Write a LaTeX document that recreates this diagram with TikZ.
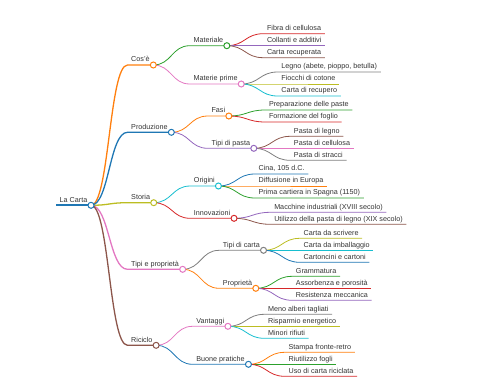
\documentclass[tikz,border=0pt]{standalone}
\usepackage{fontspec}
\setmainfont{Liberation Sans}
\usetikzlibrary{calc}

\definecolor{cblue}{HTML}{1F77B4}
\definecolor{corange}{HTML}{FF7F0E}
\definecolor{cgreen}{HTML}{2CA02C}
\definecolor{cred}{HTML}{D62728}
\definecolor{cpurple}{HTML}{9467BD}
\definecolor{cbrown}{HTML}{8C564B}
\definecolor{cpink}{HTML}{E377C2}
\definecolor{cgray}{HTML}{7F7F7F}
\definecolor{colive}{HTML}{BCBD22}
\definecolor{ccyan}{HTML}{17BECF}

\begin{document}
\begin{tikzpicture}[
    x=1pt, y=-1pt,
    topic/.style={
        anchor=south west,
        inner xsep=3.5pt,
        inner ysep=1.5pt,
        text height=5.2pt,
        text depth=1.5pt,
        font=\fontsize{7.2}{8}\selectfont,
        text=black!80,
    },
    link/.style={
        line width=0.8pt,
        to path={.. controls +(18.25,0) and +(-18.25,0) .. (\tikztotarget)},
    },
    thick link/.style={
        link,
        line width=1.3pt,
    },
    dot/.style={
        draw,
        circle,
        fill=white,
        line width=1pt,
        inner sep=0pt,
        minimum size=6pt,
    },
]
    \useasboundingbox (0,0) rectangle (480,384);

    \node[topic] (root) at (56,205.3) {La Carta};

    % first level
    \node[topic] (cose) at ($(root.south east)+(36.5,-140.3)$) {Cos'è};
    \node[topic] (prod) at ($(root.south east)+(36.5,-73)$) {Produzione};
    \node[topic] (storia) at ($(root.south east)+(36.5,-2.6)$) {Storia};
    \node[topic] (tipi) at ($(root.south east)+(36.5,64)$) {Tipi e proprietà};
    \node[topic] (ricic) at ($(root.south east)+(36.5,140)$) {Riciclo};

    % second level
    \node[topic] (mat) at ($(cose.south east)+(36.5,-19.3)$) {Materiale};
    \node[topic] (matp) at ($(cose.south east)+(36.5,19)$) {Materie prime};
    \node[topic] (fasi) at ($(prod.south east)+(36.5,-16.3)$) {Fasi};
    \node[topic] (pasta) at ($(prod.south east)+(36.5,16)$) {Tipi di pasta};
    \node[topic] (orig) at ($(storia.south east)+(36.5,-16.7)$) {Origini};
    \node[topic] (innov) at ($(storia.south east)+(36.5,15.6)$) {Innovazioni};
    \node[topic] (carta) at ($(tipi.south east)+(36.5,-19)$) {Tipi di carta};
    \node[topic] (prop) at ($(tipi.south east)+(36.5,19)$) {Proprietà};
    \node[topic] (vant) at ($(ricic.south east)+(36.5,-19)$) {Vantaggi};
    \node[topic] (buone) at ($(ricic.south east)+(36.5,19)$) {Buone pratiche};

    % leaves
    \node[topic] (fibra) at ($(mat.south east)+(36.5,-12)$) {Fibra di cellulosa};
    \node[topic] (coll) at ($(mat.south east)+(36.5,0)$) {Collanti e additivi};
    \node[topic] (recup) at ($(mat.south east)+(36.5,12)$) {Carta recuperata};
    \node[topic] (legno) at ($(matp.south east)+(36.5,-12)$) {Legno (abete, pioppo, betulla)};
    \node[topic] (cotone) at ($(matp.south east)+(36.5,0)$) {Fiocchi di cotone};
    \node[topic] (recup2) at ($(matp.south east)+(36.5,12)$) {Carta di recupero};
    \node[topic] (prep) at ($(fasi.south east)+(36.5,-6)$) {Preparazione delle paste};
    \node[topic] (form) at ($(fasi.south east)+(36.5,6)$) {Formazione del foglio};
    \node[topic] (pleg) at ($(pasta.south east)+(36.5,-12)$) {Pasta di legno};
    \node[topic] (pcel) at ($(pasta.south east)+(36.5,0)$) {Pasta di cellulosa};
    \node[topic] (pstr) at ($(pasta.south east)+(36.5,12)$) {Pasta di stracci};
    \node[topic] (cina) at ($(orig.south east)+(36.5,-12)$) {Cina, 105 d.C.};
    \node[topic] (diff) at ($(orig.south east)+(36.5,0)$) {Diffusione in Europa};
    \node[topic] (spagna) at ($(orig.south east)+(36.5,12)$) {Prima cartiera in Spagna (1150)};
    \node[topic] (macch) at ($(innov.south east)+(36.5,-6)$) {Macchine industriali (XVIII secolo)};
    \node[topic] (util) at ($(innov.south east)+(36.5,6)$) {Utilizzo della pasta di legno (XIX secolo)};
    \node[topic] (scriv) at ($(carta.south east)+(36.5,-12)$) {Carta da scrivere};
    \node[topic] (imball) at ($(carta.south east)+(36.5,0)$) {Carta da imballaggio};
    \node[topic] (cartonc) at ($(carta.south east)+(36.5,12)$) {Cartoncini e cartoni};
    \node[topic] (gramm) at ($(prop.south east)+(36.5,-12)$) {Grammatura};
    \node[topic] (assorb) at ($(prop.south east)+(36.5,0)$) {Assorbenza e porosità};
    \node[topic] (resist) at ($(prop.south east)+(36.5,12)$) {Resistenza meccanica};
    \node[topic] (alberi) at ($(vant.south east)+(36.5,-12)$) {Meno alberi tagliati};
    \node[topic] (energ) at ($(vant.south east)+(36.5,0)$) {Risparmio energetico};
    \node[topic] (rifiuti) at ($(vant.south east)+(36.5,12)$) {Minori rifiuti};
    \node[topic] (stampa) at ($(buone.south east)+(36.5,-12)$) {Stampa fronte-retro};
    \node[topic] (riut) at ($(buone.south east)+(36.5,0)$) {Riutilizzo fogli};
    \node[topic] (riccl) at ($(buone.south east)+(36.5,12)$) {Uso di carta riciclata};

    % underlines and links
    \draw[cblue, line width=1.8pt] (root.south west) -- (root.south east);

    \draw[thick link, corange] (root.south east) to (cose.south west) -- (cose.south east);
    \draw[thick link, cblue] (root.south east) to (prod.south west) -- (prod.south east);
    \draw[thick link, colive] (root.south east) to (storia.south west) -- (storia.south east);
    \draw[thick link, cpink] (root.south east) to (tipi.south west) -- (tipi.south east);
    \draw[thick link, cbrown] (root.south east) to (ricic.south west) -- (ricic.south east);

    \draw[link, cgreen] (cose.south east) to (mat.south west) -- (mat.south east);
    \draw[link, cpink] (cose.south east) to (matp.south west) -- (matp.south east);
    \draw[link, corange] (prod.south east) to (fasi.south west) -- (fasi.south east);
    \draw[link, cpurple] (prod.south east) to (pasta.south west) -- (pasta.south east);
    \draw[link, ccyan] (storia.south east) to (orig.south west) -- (orig.south east);
    \draw[link, cred] (storia.south east) to (innov.south west) -- (innov.south east);
    \draw[link, cgray] (tipi.south east) to (carta.south west) -- (carta.south east);
    \draw[link, corange] (tipi.south east) to (prop.south west) -- (prop.south east);
    \draw[link, cpink] (ricic.south east) to (vant.south west) -- (vant.south east);
    \draw[link, cblue] (ricic.south east) to (buone.south west) -- (buone.south east);

    \draw[link, cred] (mat.south east) to (fibra.south west) -- (fibra.south east);
    \draw[link, cpurple] (mat.south east) to (coll.south west) -- (coll.south east);
    \draw[link, cbrown] (mat.south east) to (recup.south west) -- (recup.south east);
    \draw[link, cgray] (matp.south east) to (legno.south west) -- (legno.south east);
    \draw[link, colive] (matp.south east) to (cotone.south west) -- (cotone.south east);
    \draw[link, ccyan] (matp.south east) to (recup2.south west) -- (recup2.south east);
    \draw[link, cgreen] (fasi.south east) to (prep.south west) -- (prep.south east);
    \draw[link, cred] (fasi.south east) to (form.south west) -- (form.south east);
    \draw[link, cbrown] (pasta.south east) to (pleg.south west) -- (pleg.south east);
    \draw[link, cpink] (pasta.south east) to (pcel.south west) -- (pcel.south east);
    \draw[link, cgray] (pasta.south east) to (pstr.south west) -- (pstr.south east);
    \draw[link, cblue] (orig.south east) to (cina.south west) -- (cina.south east);
    \draw[link, corange] (orig.south east) to (diff.south west) -- (diff.south east);
    \draw[link, cgreen] (orig.south east) to (spagna.south west) -- (spagna.south east);
    \draw[link, cpurple] (innov.south east) to (macch.south west) -- (macch.south east);
    \draw[link, cbrown] (innov.south east) to (util.south west) -- (util.south east);
    \draw[link, colive] (carta.south east) to (scriv.south west) -- (scriv.south east);
    \draw[link, ccyan] (carta.south east) to (imball.south west) -- (imball.south east);
    \draw[link, cblue] (carta.south east) to (cartonc.south west) -- (cartonc.south east);
    \draw[link, cgreen] (prop.south east) to (gramm.south west) -- (gramm.south east);
    \draw[link, cred] (prop.south east) to (assorb.south west) -- (assorb.south east);
    \draw[link, cpurple] (prop.south east) to (resist.south west) -- (resist.south east);
    \draw[link, cgray] (vant.south east) to (alberi.south west) -- (alberi.south east);
    \draw[link, colive] (vant.south east) to (energ.south west) -- (energ.south east);
    \draw[link, ccyan] (vant.south east) to (rifiuti.south west) -- (rifiuti.south east);
    \draw[link, corange] (buone.south east) to (stampa.south west) -- (stampa.south east);
    \draw[link, cgreen] (buone.south east) to (riut.south west) -- (riut.south east);
    \draw[link, cred] (buone.south east) to (riccl.south west) -- (riccl.south east);

    % circles on the branching points
    \node[dot, draw=cblue] (root-dot) at (root.south east) {};
    \node[dot, draw=corange] (cose-dot) at (cose.south east) {};
    \node[dot, draw=cblue] (prod-dot) at (prod.south east) {};
    \node[dot, draw=colive] (storia-dot) at (storia.south east) {};
    \node[dot, draw=cpink] (tipi-dot) at (tipi.south east) {};
    \node[dot, draw=cbrown] (ricic-dot) at (ricic.south east) {};
    \node[dot, draw=cgreen] (mat-dot) at (mat.south east) {};
    \node[dot, draw=cpink] (matp-dot) at (matp.south east) {};
    \node[dot, draw=corange] (fasi-dot) at (fasi.south east) {};
    \node[dot, draw=cpurple] (pasta-dot) at (pasta.south east) {};
    \node[dot, draw=ccyan] (orig-dot) at (orig.south east) {};
    \node[dot, draw=cred] (innov-dot) at (innov.south east) {};
    \node[dot, draw=cgray] (carta-dot) at (carta.south east) {};
    \node[dot, draw=corange] (prop-dot) at (prop.south east) {};
    \node[dot, draw=cpink] (vant-dot) at (vant.south east) {};
    \node[dot, draw=cblue] (buone-dot) at (buone.south east) {};

\end{tikzpicture}
\end{document}
